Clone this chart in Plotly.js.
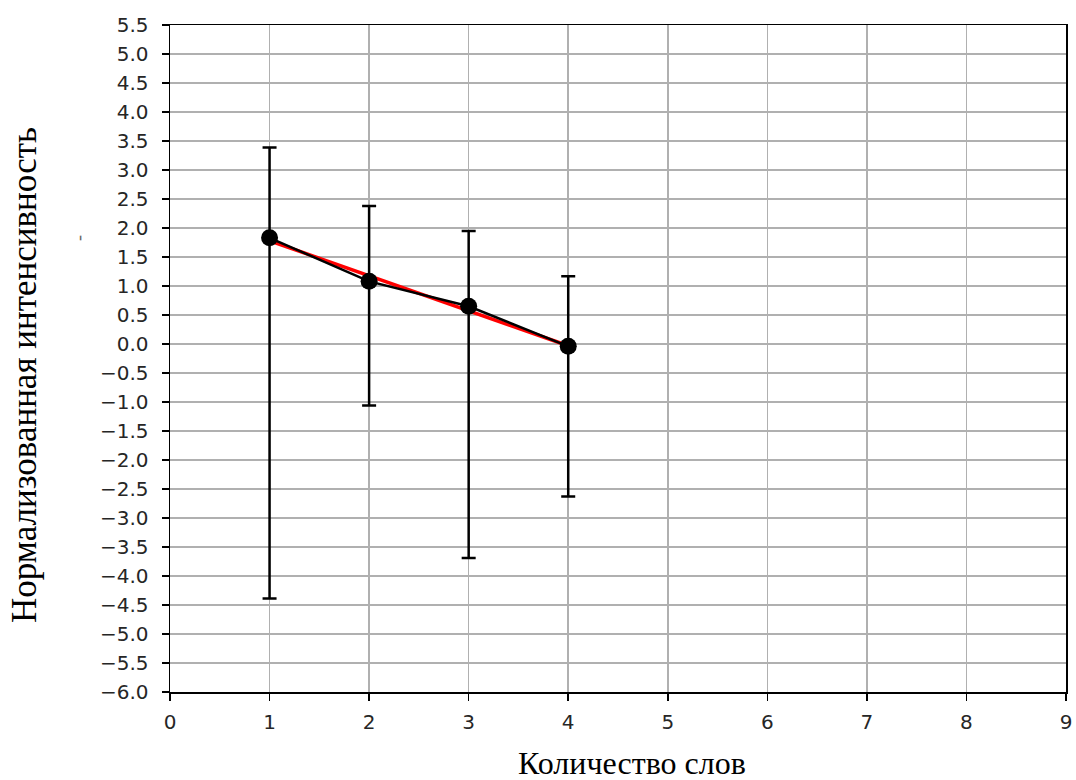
<!DOCTYPE html>
<html>
<head>
<meta charset="utf-8">
<script src="https://cdn.plot.ly/plotly-3.0.1.min.js"></script>
<style>html,body{margin:0;padding:0;background:#fff;}#chart{width:1076px;height:780px;}</style>
</head>
<body>
<div id="chart"></div>
<script>
const words = [1, 2, 3, 4];
const meanValues = [1.83, 1.08, 0.65, -0.04];
const errUpper = [3.39, 2.38, 1.95, 1.17];
const errLower = [-4.39, -1.06, -3.69, -2.63];
const fitValues = [1.78, 1.18, 0.58, -0.03];
const xTicks = [0, 1, 2, 3, 4, 5, 6, 7, 8, 9];
const yTicks = [5.5, 5.0, 4.5, 4.0, 3.5, 3.0, 2.5, 2.0, 1.5, 1.0, 0.5, 0.0, -0.5, -1.0, -1.5, -2.0, -2.5, -3.0, -3.5, -4.0, -4.5, -5.0, -5.5, -6.0];
const xTitle = 'Количество слов';
const yTitle = 'Нормализованная интенсивность';

const plus = meanValues.map((m, i) => errUpper[i] - m);
const minus = meanValues.map((m, i) => m - errLower[i]);
const yTickText = yTicks.map(v => v.toFixed(1).replace('-', '\u2212'));

const traces = [
  {
    x: words, y: fitValues, type: 'scatter', mode: 'lines',
    line: {color: '#ff0000', width: 3.5}, hoverinfo: 'skip', showlegend: false
  },
  {
    x: words, y: meanValues, type: 'scatter', mode: 'lines+markers',
    line: {color: '#000000', width: 2.5},
    marker: {color: '#000000', size: 17},
    error_y: {type: 'data', symmetric: false, array: plus, arrayminus: minus,
      color: '#000000', thickness: 2.5, width: 7},
    showlegend: false
  }
];

const layout = {
  width: 1076, height: 780,
  margin: {l: 170, r: 10, t: 25, b: 88},
  paper_bgcolor: '#ffffff', plot_bgcolor: '#ffffff',
  showlegend: false,
  xaxis: {
    range: [0, 9], tickvals: xTicks, ticktext: xTicks.map(String),
    showgrid: true, gridcolor: '#b0b0b0', gridwidth: 1.5,
    zeroline: false, showline: true, linecolor: '#000000', linewidth: 1.5, mirror: true,
    ticks: 'outside', ticklen: 7, tickwidth: 1.5, tickcolor: '#000000',
    ticklabelstandoff: 4,
    tickfont: {family: 'DejaVu Sans', size: 20, color: '#262626'}
  },
  yaxis: {
    range: [-6.0, 5.5], tickvals: yTicks, ticktext: yTickText,
    showgrid: true, gridcolor: '#b0b0b0', gridwidth: 1.5,
    zeroline: false, showline: true, linecolor: '#000000', linewidth: 1.5, mirror: true,
    ticks: 'outside', ticklen: 7, tickwidth: 1.5, tickcolor: '#000000',
    ticklabelstandoff: 9,
    tickfont: {family: 'DejaVu Sans', size: 20, color: '#262626'}
  },
  annotations: [
    {text: xTitle, xref: 'paper', yref: 'paper', x: (632 - 170) / 896, y: -(763 - 692) / 667,
     xanchor: 'center', yanchor: 'middle', showarrow: false,
     font: {family: 'Liberation Serif', size: 32, color: '#000000'}},
    {text: yTitle, xref: 'paper', yref: 'paper', x: (24 - 170) / 896, y: (692 - 375) / 667,
     xanchor: 'center', yanchor: 'middle', showarrow: false, textangle: -90,
     font: {family: 'Liberation Serif', size: 35, color: '#000000'}},
    {text: '-', xref: 'paper', yref: 'paper', x: (79 - 170) / 896, y: (692 - 238) / 667,
     xanchor: 'center', yanchor: 'middle', showarrow: false, textangle: -90,
     font: {family: 'Liberation Serif', size: 18, color: '#666666'}}
  ]
};

Plotly.newPlot('chart', traces, layout, {displayModeBar: false, staticPlot: true});
</script>
</body>
</html>
